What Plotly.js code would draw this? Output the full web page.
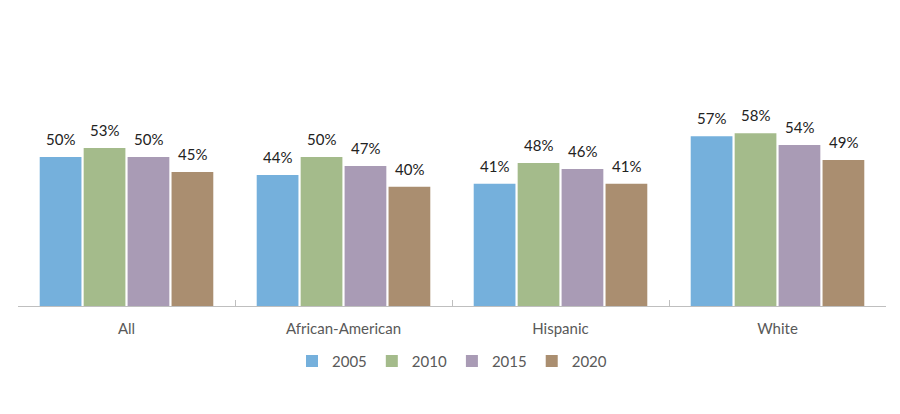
<!DOCTYPE html>
<html><head><meta charset="utf-8">
<script src="https://cdn.plot.ly/plotly-3.0.1.min.js"></script>
<style>html,body{margin:0;padding:0;background:#fff}#chart{width:900px;height:414px}</style>
</head><body><div id="chart"></div>
<script>
const categories = ["All", "African-American", "Hispanic", "White"];
const seriesNames = ["2005", "2010", "2015", "2020"];
const v2005 = [0.50, 0.44, 0.41, 0.57];
const v2010 = [0.53, 0.50, 0.48, 0.58];
const v2015 = [0.50, 0.47, 0.46, 0.54];
const v2020 = [0.45, 0.40, 0.41, 0.49];
const seriesValues = [v2005, v2010, v2015, v2020];
const colors = ["#75B0DC", "#A4BB8B", "#A99BB5", "#AA8E70"];

const bargap = 0.19;
const nS = seriesValues.length;
const traces = seriesValues.map((vals, j) => ({
  type: "bar", name: seriesNames[j], x: categories, y: vals,
  marker: {color: colors[j]}, hoverinfo: "skip"
}));
const annotations = [];
seriesValues.forEach((vals, j) => {
  const slot = (1 - bargap) / nS;
  const off = -(1 - bargap) / 2 + (j + 0.5) * slot;
  vals.forEach((v, i) => {
    annotations.push({
      x: i + off, y: v, xref: "x", yref: "y",
      text: Math.round(v * 100) + "%", showarrow: false,
      yanchor: "bottom", yshift: 7,
      font: {family: "Lato, sans-serif", size: 15, color: "#222"}
    });
  });
});
const layout = {
  width: 900, height: 414,
  margin: {l: 18, r: 14, t: 8, b: 108},
  paper_bgcolor: "#fff", plot_bgcolor: "#fff",
  barmode: "group", bargap: bargap, bargroupgap: 0.05,
  xaxis: {type: "category", showline: true, linecolor: "#BFBFBF", linewidth: 1,
    ticks: "inside", tickson: "boundaries", ticklen: 6, tickcolor: "#BFBFBF",
    ticklabelstandoff: 9,
    tickfont: {family: "Lato, sans-serif", size: 15, color: "#595959"},
    showgrid: false, zeroline: false, fixedrange: true},
  yaxis: {range: [0, 1], visible: false, showgrid: false, zeroline: false, fixedrange: true},
  legend: {orientation: "h", x: 0.5, xanchor: "center", y: -0.13, yanchor: "top",
    font: {family: "Lato, sans-serif", size: 15, color: "#595959"},
    itemwidth: 30, traceorder: "normal"},
  annotations: annotations,
  showlegend: true
};
Plotly.newPlot("chart", traces, layout, {displayModeBar: false, staticPlot: true});
</script></body></html>
